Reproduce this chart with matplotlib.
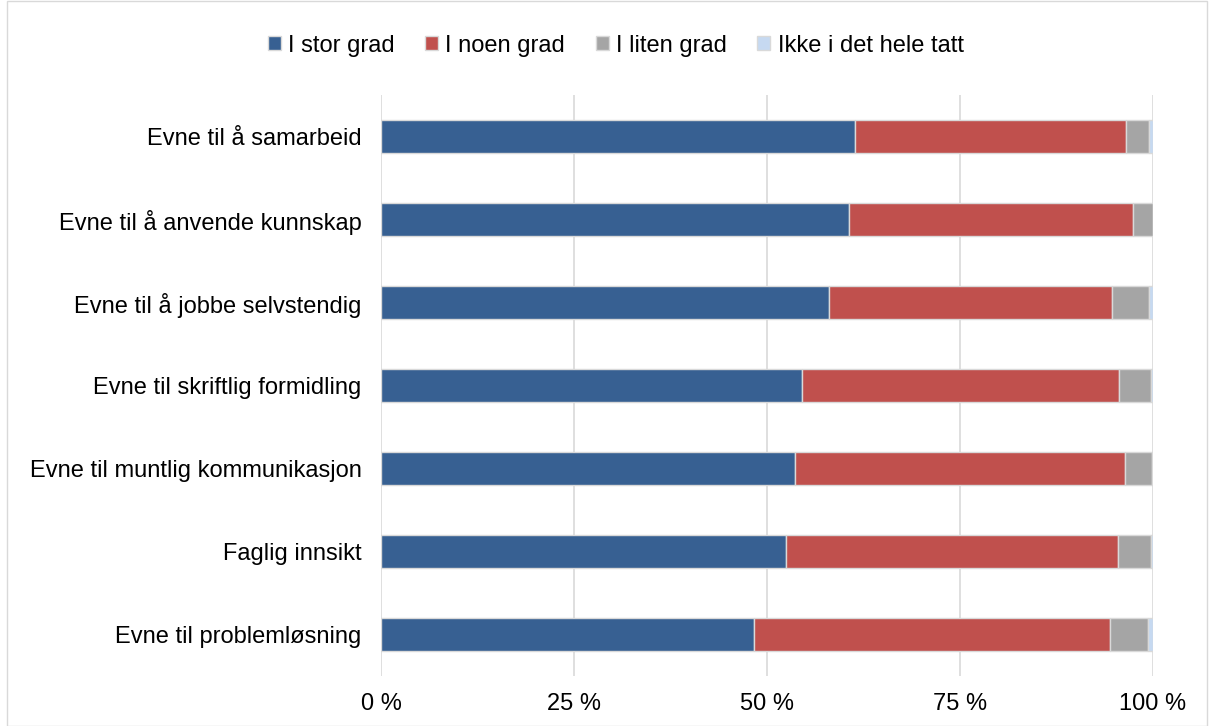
import matplotlib.pyplot as plt
import numpy as np
from matplotlib.patches import Rectangle

plt.rcParams['font.family'] = ['Liberation Sans', 'DejaVu Sans']

# Kategorier (ovenfra og ned)
categories = [
    "Evne til å samarbeid",
    "Evne til å anvende kunnskap",
    "Evne til å jobbe selvstendig",
    "Evne til skriftlig formidling",
    "Evne til muntlig kommunikasjon",
    "Faglig innsikt",
    "Evne til problemløsning",
]

# Andeler i prosent
stor = [61.4, 60.7, 58.1, 54.6, 53.7, 52.5, 48.4]
noen = [35.2, 36.8, 36.7, 41.0, 42.7, 43.0, 46.1]
liten = [2.9, 2.5, 4.7, 4.2, 3.5, 4.3, 4.9]
ikke = [0.5, 0.0, 0.5, 0.2, 0.1, 0.2, 0.6]

series = ["I stor grad", "I noen grad", "I liten grad", "Ikke i det hele tatt"]
colors = ["#376092", "#C0504D", "#A5A5A5", "#C6D9F1"]

fig = plt.figure(figsize=(12.12, 7.26), dpi=100)
ax = fig.add_axes([0.3144, 0.069, 0.6366, 0.8])

y = np.arange(len(categories))
left = np.zeros(len(categories))
for name, vals, col in zip(series, [stor, noen, liten, ikke], colors):
    ax.barh(y, vals, left=left, height=0.39, color=col, edgecolor="#D9D9D9",
            linewidth=1, label=name, zorder=3)
    left = left + np.array(vals)

ax.set_ylim(len(categories) - 0.5, -0.5)
ax.set_xlim(0, 100)
ax.set_yticks(y)
ax.set_yticklabels(categories, fontsize=17)
ax.set_xticks([0, 25, 50, 75, 100])
ax.set_xticklabels(["0 %", "25 %", "50 %", "75 %", "100 %"], fontsize=17)
ax.tick_params(axis="both", length=0)
ax.tick_params(axis="x", pad=12)
ax.tick_params(axis="y", pad=14)
ax.xaxis.grid(True, color="#D9D9D9", linewidth=1.2, zorder=0)
for s in ax.spines.values():
    s.set_visible(False)

handles = [Rectangle((0, 0), 1, 1, facecolor=c, edgecolor="#D9D9D9") for c in colors]
fig.legend(handles, series, loc="center", bbox_to_anchor=(0.508, 0.937), ncol=4,
           frameon=False, fontsize=17, handlelength=0.55, handleheight=0.55,
           handletextpad=0.3, columnspacing=1.3)

fig.patches.append(Rectangle((0.006, 0.0), 0.99, 0.998, transform=fig.transFigure,
                             fill=False, edgecolor="#D9D9D9", linewidth=1))

fig.savefig("out.png", dpi=100)
